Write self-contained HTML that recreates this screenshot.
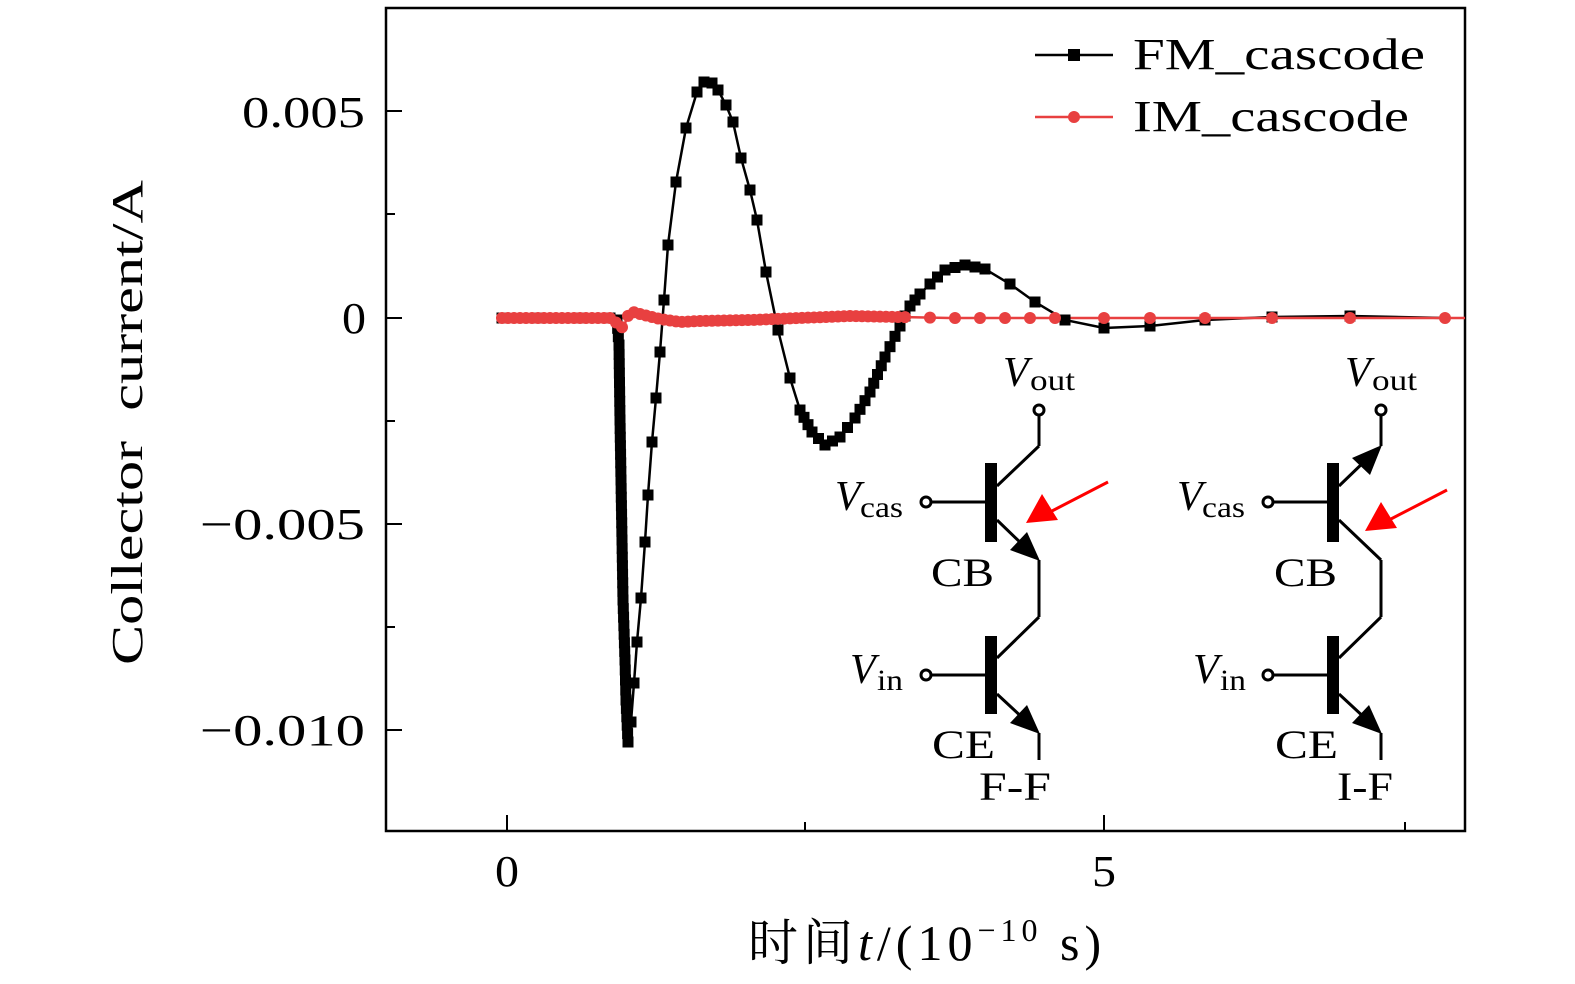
<!DOCTYPE html>
<html><head><meta charset="utf-8"><style>
html,body{margin:0;padding:0;background:#fff;}
svg{display:block;}
text{font-family:"Liberation Serif","Noto Serif CJK SC",serif;fill:#000;}
</style></head><body>
<svg id="s" width="1575" height="984" viewBox="0 0 1575 984" xmlns="http://www.w3.org/2000/svg">
<rect x="386" y="8" width="1079" height="823" fill="none" stroke="#000" stroke-width="2.5"/>
<g stroke="#000" stroke-width="2">
<line x1="386" y1="111" x2="402" y2="111"/><line x1="386" y1="318" x2="402" y2="318"/>
<line x1="386" y1="524" x2="402" y2="524"/><line x1="386" y1="730" x2="402" y2="730"/>
<line x1="386" y1="214" x2="395" y2="214"/><line x1="386" y1="421" x2="395" y2="421"/><line x1="386" y1="627" x2="395" y2="627"/>
<line x1="507" y1="831" x2="507" y2="815"/><line x1="1104" y1="831" x2="1104" y2="815"/>
<line x1="805" y1="831" x2="805" y2="822"/><line x1="1405" y1="831" x2="1405" y2="822"/>
</g>
<g font-size="44">
<text x="242" y="127" textLength="123" lengthAdjust="spacingAndGlyphs">0.005</text>
<text x="342" y="333" textLength="24" lengthAdjust="spacingAndGlyphs">0</text>
<text x="200" y="539" textLength="165" lengthAdjust="spacingAndGlyphs">−0.005</text>
<text x="200" y="745" textLength="165" lengthAdjust="spacingAndGlyphs">−0.010</text>
<text x="495" y="886" textLength="24" lengthAdjust="spacingAndGlyphs">0</text>
<text x="1092" y="886" textLength="24" lengthAdjust="spacingAndGlyphs">5</text>
</g>
<text x="748" y="960" font-size="50" letter-spacing="5">时间<tspan font-style="italic">t</tspan>/(10<tspan font-size="32" dy="-19">−10</tspan><tspan dy="19"> s)</tspan></text>
<text transform="translate(142,665) rotate(-90)" font-size="44" textLength="485" lengthAdjust="spacingAndGlyphs" xml:space="preserve">Collector  current/A</text>

<g id="series"></g>

<line x1="1035" y1="55" x2="1113" y2="55" stroke="#000" stroke-width="2.5"/>
<rect x="1068" y="49" width="12" height="12" fill="#000"/>
<text x="1133" y="69" font-size="44" textLength="292" lengthAdjust="spacingAndGlyphs">FM_cascode</text>
<line x1="1035" y1="117" x2="1113" y2="117" stroke="#e84040" stroke-width="2.5"/>
<circle cx="1074" cy="117" r="6" fill="#e84040"/>
<text x="1133" y="131" font-size="44" textLength="276" lengthAdjust="spacingAndGlyphs">IM_cascode</text>

<g stroke="#000" stroke-width="3" fill="none">
<rect x="985" y="463" width="12" height="79" fill="#000" stroke="none"/>
<rect x="985" y="636" width="12" height="78" fill="#000" stroke="none"/>
<circle cx="926" cy="502" r="5" fill="#fff"/><line x1="931" y1="502" x2="985" y2="502"/>
<circle cx="926" cy="675" r="5" fill="#fff"/><line x1="931" y1="675" x2="985" y2="675"/>
<circle cx="1039" cy="410" r="5" fill="#fff"/><line x1="1039" y1="415" x2="1039" y2="446"/>
<line x1="997" y1="486" x2="1039" y2="446"/>
<line x1="997" y1="520" x2="1025" y2="547"/>
<line x1="1039" y1="560" x2="1039" y2="617"/>
<line x1="1039" y1="617" x2="997" y2="658"/>
<line x1="997" y1="694" x2="1025" y2="720"/>
<line x1="1039" y1="733" x2="1039" y2="760"/>
</g>
<g stroke="#000" stroke-width="3" fill="none">
<rect x="1327" y="463" width="12" height="79" fill="#000" stroke="none"/>
<rect x="1327" y="636" width="12" height="78" fill="#000" stroke="none"/>
<circle cx="1268" cy="502" r="5" fill="#fff"/><line x1="1273" y1="502" x2="1327" y2="502"/>
<circle cx="1268" cy="675" r="5" fill="#fff"/><line x1="1273" y1="675" x2="1327" y2="675"/>
<circle cx="1381" cy="410" r="5" fill="#fff"/><line x1="1381" y1="415" x2="1381" y2="446"/>
<line x1="1339" y1="486" x2="1367" y2="459"/>
<line x1="1339" y1="520" x2="1381" y2="560"/>
<line x1="1381" y1="560" x2="1381" y2="617"/>
<line x1="1381" y1="617" x2="1339" y2="658"/>
<line x1="1339" y1="694" x2="1367" y2="720"/>
<line x1="1381" y1="733" x2="1381" y2="760"/>
</g>
<g fill="#000">
<polygon points="1040,561 1010,550 1027,532"/>
<polygon points="1040,734 1010,723 1027,705"/>
<polygon points="1382,445 1370,475 1352,458"/>
<polygon points="1382,734 1352,723 1369,705"/>
</g>
<g fill="#f00" stroke="#f00">
<line x1="1108" y1="482" x2="1050" y2="512" stroke-width="3"/>
<polygon points="1026,523 1042,494 1058,520" stroke="none"/>
<line x1="1447" y1="490" x2="1389" y2="520" stroke-width="3"/>
<polygon points="1365,531 1381,502 1397,528" stroke="none"/>
</g>
<g font-size="40">
<text x="1003" y="386" font-style="italic" font-size="42">V</text><text x="1030" y="390" font-size="30" textLength="45" lengthAdjust="spacingAndGlyphs">out</text>
<text x="835" y="510" font-style="italic" font-size="42">V</text><text x="860" y="517" font-size="30" textLength="43" lengthAdjust="spacingAndGlyphs">cas</text>
<text x="850" y="683" font-style="italic" font-size="42">V</text><text x="877" y="690" font-size="30" textLength="26" lengthAdjust="spacingAndGlyphs">in</text>
<text x="931" y="586" textLength="63" lengthAdjust="spacingAndGlyphs">CB</text>
<text x="932" y="758" textLength="63" lengthAdjust="spacingAndGlyphs">CE</text>
<text x="979" y="800" textLength="72" lengthAdjust="spacingAndGlyphs">F-F</text>
<text x="1345" y="386" font-style="italic" font-size="42">V</text><text x="1372" y="390" font-size="30" textLength="45" lengthAdjust="spacingAndGlyphs">out</text>
<text x="1177" y="510" font-style="italic" font-size="42">V</text><text x="1202" y="517" font-size="30" textLength="43" lengthAdjust="spacingAndGlyphs">cas</text>
<text x="1193" y="683" font-style="italic" font-size="42">V</text><text x="1220" y="690" font-size="30" textLength="26" lengthAdjust="spacingAndGlyphs">in</text>
<text x="1274" y="586" textLength="63" lengthAdjust="spacingAndGlyphs">CB</text>
<text x="1275" y="758" textLength="63" lengthAdjust="spacingAndGlyphs">CE</text>
<text x="1337" y="800" textLength="56" lengthAdjust="spacingAndGlyphs">I-F</text>
</g>
</svg>
<script>
(function(){
var NS="http://www.w3.org/2000/svg",g=document.getElementById("series");
var fm=[[502,318],[540,318],[580,318],[610,318],[617,320],[619,345],[620,420],[621,480],[622,540],[623,600],[625,660],[626,700],[628,742],[631,722],[634,683],[637,642],[641,598],[645,542],[648,495],[652,442],[656,398],[660,352],[664,300],[668,245],[676,182],[686,128],[697,92],[704,82],[712,83],[718,90],[726,105],[733,122],[741,158],[750,190],[757,220],[766,272],[778,330],[790,378],[800,410],[812,432],[825,445],[840,437],[855,418],[870,392],[885,357],[900,326],[910,306],[920,294],[930,284],[945,270],[965,265],[985,269],[1010,284],[1035,302],[1065,320],[1104,328],[1150,326],[1205,320],[1272,317],[1350,316],[1445,318]];
var rd=[[502,318],[610,318],[618,324],[623,328],[630,311],[640,314],[660,319],[680,322],[700,321],[750,320],[800,318],[850,316],[900,317],[950,318],[1104,318],[1465,318]];
function dens(p,step){var o=[];for(var i=0;i<p.length-1;i++){var a=p[i],b=p[i+1],d=Math.hypot(b[0]-a[0],b[1]-a[1]),n=Math.max(1,Math.round(d/step));for(var k=0;k<n;k++){o.push([a[0]+(b[0]-a[0])*k/n,a[1]+(b[1]-a[1])*k/n]);}}o.push(p[p.length-1]);return o;}
function pl(p,c){var e=document.createElementNS(NS,"polyline");e.setAttribute("points",p.map(function(q){return q.join(",")}).join(" "));e.setAttribute("fill","none");e.setAttribute("stroke",c);e.setAttribute("stroke-width","2.5");g.appendChild(e);}
pl(fm,"#000");pl(rd,"#e84040");
var fmm=[];fm.forEach(function(q){fmm.push(q)});
dens(fm.slice(4,13),9).forEach(function(q){fmm.push(q)});
dens(fm.slice(38,52),10).forEach(function(q){fmm.push(q)});
fmm.forEach(function(q){if(q[0]>1440)return;var r=document.createElementNS(NS,"rect");r.setAttribute("x",q[0]-5.5);r.setAttribute("y",q[1]-5.5);r.setAttribute("width",11);r.setAttribute("height",11);r.setAttribute("fill","#000");g.appendChild(r);});
var rx=[];for(var x=502;x<900;x+=6)rx.push(x);[905,930,955,980,1005,1030,1055,1104,1150,1205,1272,1350,1445].forEach(function(x){rx.push(x)});
function ry(x){for(var i=0;i<rd.length-1;i++){if(x>=rd[i][0]&&x<=rd[i+1][0]){var t=(x-rd[i][0])/(rd[i+1][0]-rd[i][0]);return rd[i][1]+t*(rd[i+1][1]-rd[i][1]);}}return 318;}
rx.forEach(function(x){var c=document.createElementNS(NS,"circle");c.setAttribute("cx",x);c.setAttribute("cy",ry(x));c.setAttribute("r",6);c.setAttribute("fill","#e84040");g.appendChild(c);});
})();
</script>
</body></html>
